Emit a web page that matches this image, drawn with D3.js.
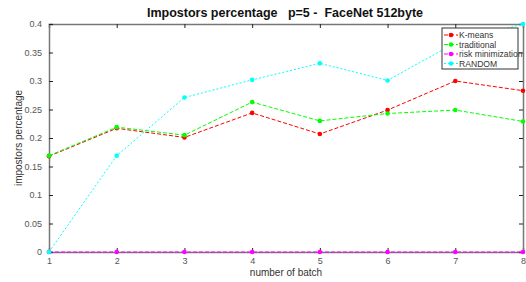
<!DOCTYPE html>
<html>
<head>
<meta charset="utf-8">
<script src="https://cdn.jsdelivr.net/npm/d3@7"></script>
<style>
  body { margin: 0; background: #fff; }
  text { font-family: "Liberation Sans", Arial, sans-serif; }
</style>
</head>
<body>
<div id="chart"></div>
<script>
// data
var batches = [1, 2, 3, 4, 5, 6, 7, 8]
var kmeans = [0.168, 0.217, 0.201, 0.244, 0.207, 0.249, 0.300, 0.283]
var traditional = [0.169, 0.219, 0.205, 0.263, 0.230, 0.243, 0.249, 0.229]
var riskMin = [0, 0, 0, 0, 0, 0, 0, 0]
var random = [0, 0.169, 0.271, 0.302, 0.331, 0.301, 0.367, 0.400]
var yTicks = [0, 0.05, 0.1, 0.15, 0.2, 0.25, 0.3, 0.35, 0.4]

var series = [
  {name: "K-means", values: kmeans, color: "#ff0000", dash: "4,2"},
  {name: "traditional", values: traditional, color: "#00ff00", dash: "4,2"},
  {name: "risk minimization", values: riskMin, color: "#ff00ff", dash: "4,2"},
  {name: "RANDOM", values: random, color: "#00ffff", dash: "2,2"}
]

var width = 526
var height = 282
var margin = {left: 49, right: 3, top: 24, bottom: 30}

var svg = d3.select("#chart")
  .append("svg")
    .attr("width", width)
    .attr("height", height)

var x = d3.scaleLinear().domain([1, 8]).range([margin.left, width - margin.right])
var y = d3.scaleLinear().domain([0, 0.4]).range([height - margin.bottom, margin.top])

// axes with inward ticks on all four sides
var fmt = function(d){ return d3.format("")(+d.toFixed(2)) }
var bottom = svg.append("g")
  .attr("transform", "translate(0," + y(0) + ")")
  .call(d3.axisBottom(x).tickValues(batches).tickSize(-4).tickPadding(6).tickFormat(d3.format("d")))
var top = svg.append("g")
  .attr("transform", "translate(0," + y(0.4) + ")")
  .call(d3.axisTop(x).tickValues(batches).tickSize(-4).tickFormat(""))
var left = svg.append("g")
  .attr("transform", "translate(" + x(1) + ",0)")
  .call(d3.axisLeft(y).tickValues(yTicks).tickSize(-4).tickPadding(7).tickFormat(fmt))
var right = svg.append("g")
  .attr("transform", "translate(" + x(8) + ",0)")
  .call(d3.axisRight(y).tickValues(yTicks).tickSize(-4).tickFormat(""))

svg.selectAll(".domain").attr("stroke", "#777").attr("stroke-width", 1.5)
svg.selectAll(".tick line").attr("stroke", "#222")
svg.selectAll(".tick text").attr("fill", "#555").attr("font-size", 9)
  .attr("font-family", "Liberation Sans, Arial, sans-serif")

// lines
var line = d3.line()
  .x(function(d, i){ return x(batches[i]) })
  .y(function(d){ return y(d) })

series.forEach(function(s){
  svg.append("path")
    .datum(s.values)
    .attr("d", line)
    .attr("fill", "none")
    .attr("stroke", s.color)
    .attr("stroke-width", 1)
    .attr("stroke-dasharray", s.dash)
  svg.selectAll(null)
    .data(s.values)
    .enter()
    .append("circle")
      .attr("cx", function(d, i){ return x(batches[i]) })
      .attr("cy", function(d){ return y(d) })
      .attr("r", 2.3)
      .attr("fill", s.color)
})

// title and labels
svg.append("text")
  .attr("x", 285).attr("y", 17)
  .attr("text-anchor", "middle")
  .attr("font-size", 12.5).attr("font-weight", "bold")
  .attr("fill", "#111")
  .attr("xml:space", "preserve")
  .text("Impostors percentage   p=5 -  FaceNet 512byte")

svg.append("text")
  .attr("x", x(4.5)).attr("y", 276)
  .attr("text-anchor", "middle")
  .attr("font-size", 10).attr("fill", "#333")
  .text("number of batch")

svg.append("text")
  .attr("transform", "translate(22," + y(0.2) + ") rotate(-90)")
  .attr("text-anchor", "middle")
  .attr("font-size", 10).attr("fill", "#333")
  .text("impostors percentage")

// legend
var lg = svg.append("g").attr("transform", "translate(442,28)")
lg.append("rect")
  .attr("width", 76).attr("height", 41)
  .attr("fill", "#fff").attr("stroke", "#333").attr("stroke-width", 1)
var item = lg.selectAll("g")
  .data(series)
  .enter()
  .append("g")
    .attr("transform", function(d, i){ return "translate(0," + (7 + i * 9.5) + ")" })
item.append("line")
  .attr("x1", 2).attr("x2", 16)
  .attr("stroke", function(d){ return d.color })
  .attr("stroke-dasharray", function(d){ return d.dash })
item.append("circle")
  .attr("cx", 9).attr("r", 2.3)
  .attr("fill", function(d){ return d.color })
item.append("text")
  .attr("x", 17).attr("y", 3)
  .attr("font-size", 8.6).attr("fill", "#333")
  .text(function(d){ return d.name })
</script>
</body>
</html>
